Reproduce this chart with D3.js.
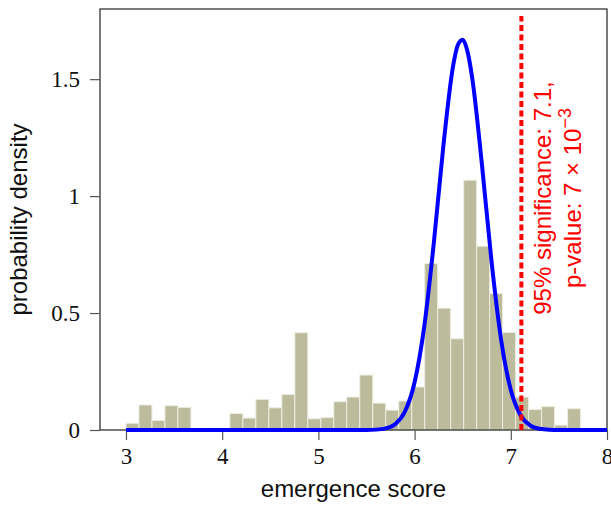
<!DOCTYPE html>
<html>
<head>
<meta charset="utf-8">
<script src="https://cdn.jsdelivr.net/npm/d3@7"></script>
<style>
  body { margin: 0; background: #fff; }
  svg { display: block; }
</style>
</head>
<body>
<div class="container"></div>
<script>
// histogram of emergence scores (density per bin)
const binStart = 3.0;
const binWidth = 0.135;
const binDensity = [0.029, 0.107, 0.041, 0.104, 0.097, 0.007, 0, 0, 0.071, 0.051,
                    0.131, 0.095, 0.152, 0.416, 0.048, 0.053, 0.121, 0.141, 0.235, 0.115,
                    0.085, 0.124, 0.184, 0.712, 0.521, 0.390, 1.068, 0.786, 0.584, 0.417,
                    0.141, 0.088, 0.100, 0.021, 0.091];

// null distribution curve
const curveX = [3.0, 5.5, 5.6, 5.7, 5.8, 5.9, 6.0, 6.1, 6.2, 6.3, 6.4, 6.45, 6.5, 6.55,
                6.6, 6.7, 6.8, 6.9, 7.0, 7.1, 7.2, 7.3, 7.4, 7.5, 8.0];
const curveY = [0, 0.0003, 0.0016, 0.0071, 0.026, 0.079, 0.204, 0.441, 0.800, 1.218, 1.556, 1.647, 1.668, 1.618,
                1.502, 1.135, 0.720, 0.384, 0.171, 0.064, 0.020, 0.005, 0.001, 0.0002, 0];

// significance threshold
const sigX = 7.11;
const sigTop = 1.77;

const xTicks = [3, 4, 5, 6, 7, 8];
const xTickLabels = ["3", "4", "5", "6", "7", "8"];
const yTicks = [0, 0.5, 1, 1.5];
const yTickLabels = ["0", "0.5", "1", "1.5"];

const w = 611, h = 506;
const padL = 100, padR = 607, padT = 9, padB = 430;

const xScale = d3.scaleLinear().domain([2.73, 8]).range([padL, padR]);
const yScale = d3.scaleLinear().domain([0, 1.8]).range([padB, padT]);

const svg = d3.select(".container").append("svg")
  .attr("width", w).attr("height", h);

/* bars */
svg.append("g").selectAll("rect")
  .data(binDensity)
  .enter()
  .append("rect")
  .attr("x", (d, i) => xScale(binStart + i * binWidth))
  .attr("width", xScale(binStart + binWidth) - xScale(binStart))
  .attr("y", d => yScale(d))
  .attr("height", d => yScale(0) - yScale(d))
  .attr("fill", "#bcbc9c")
  .attr("stroke", "#ededE2")
  .attr("stroke-width", 1);

/* frame */
svg.append("rect")
  .attr("x", padL).attr("y", padT)
  .attr("width", padR - padL).attr("height", padB - padT)
  .attr("fill", "none")
  .attr("stroke", "#222")
  .attr("stroke-width", 1.2);

/* axes */
const xAxis = d3.axisBottom(xScale).tickValues(xTicks)
  .tickFormat((d, i) => xTickLabels[i]).tickSize(10).tickSizeOuter(0).tickPadding(8);
const gx = svg.append("g").attr("transform", `translate(0, ${padB})`).call(xAxis);
gx.select(".domain").remove();
gx.selectAll("line").attr("stroke", "#555").attr("stroke-width", 1.2);
gx.selectAll("text")
  .attr("font-family", "'Liberation Serif', 'DejaVu Serif', serif")
  .attr("font-size", 23)
  .attr("fill", "#111");

const yAxis = d3.axisLeft(yScale).tickValues(yTicks)
  .tickFormat((d, i) => yTickLabels[i]).tickSize(10).tickSizeOuter(0).tickPadding(10);
const gy = svg.append("g").attr("transform", `translate(${padL}, 0)`).call(yAxis);
gy.select(".domain").remove();
gy.selectAll("line").attr("stroke", "#555").attr("stroke-width", 1.2);
gy.selectAll("text")
  .attr("font-family", "'Liberation Serif', 'DejaVu Serif', serif")
  .attr("font-size", 23)
  .attr("fill", "#111");

/* curve */
const line = d3.line()
  .x((d, i) => xScale(d))
  .y((d, i) => yScale(curveY[i]))
  .curve(d3.curveMonotoneX);

svg.append("path")
  .attr("d", line(curveX))
  .attr("fill", "none")
  .attr("stroke", "#0000ff")
  .attr("stroke-width", 4);

/* significance line */
svg.append("line")
  .attr("x1", xScale(sigX)).attr("x2", xScale(sigX))
  .attr("y1", yScale(0)).attr("y2", yScale(sigTop))
  .attr("stroke", "#ff0000")
  .attr("stroke-width", 4)
  .attr("stroke-dasharray", "6,3.5");

const note = svg.append("text")
  .attr("transform", "translate(551, 198) rotate(-90)")
  .attr("text-anchor", "middle")
  .attr("font-family", "'Liberation Sans', Arial, sans-serif")
  .attr("font-size", 24)
  .attr("fill", "#ff0000");
note.append("tspan").attr("x", 0).attr("y", 0).text("95% significance: 7.1,");
const l2 = note.append("tspan").attr("x", 0).attr("y", 30);
l2.append("tspan").text("p-value: 7 \u00d7 10");
l2.append("tspan").attr("dy", -10).attr("font-size", 18).text("\u22123");

/* axis titles */
svg.append("text")
  .attr("x", (padL + padR) / 2).attr("y", 497)
  .attr("text-anchor", "middle")
  .attr("font-family", "'Liberation Sans', Arial, sans-serif")
  .attr("font-size", 24)
  .attr("fill", "#111")
  .text("emergence score");

svg.append("text")
  .attr("transform", `translate(27, ${(padT + padB) / 2}) rotate(-90)`)
  .attr("text-anchor", "middle")
  .attr("font-family", "'Liberation Sans', Arial, sans-serif")
  .attr("font-size", 24)
  .attr("fill", "#111")
  .text("probability density");
</script>
</body>
</html>
